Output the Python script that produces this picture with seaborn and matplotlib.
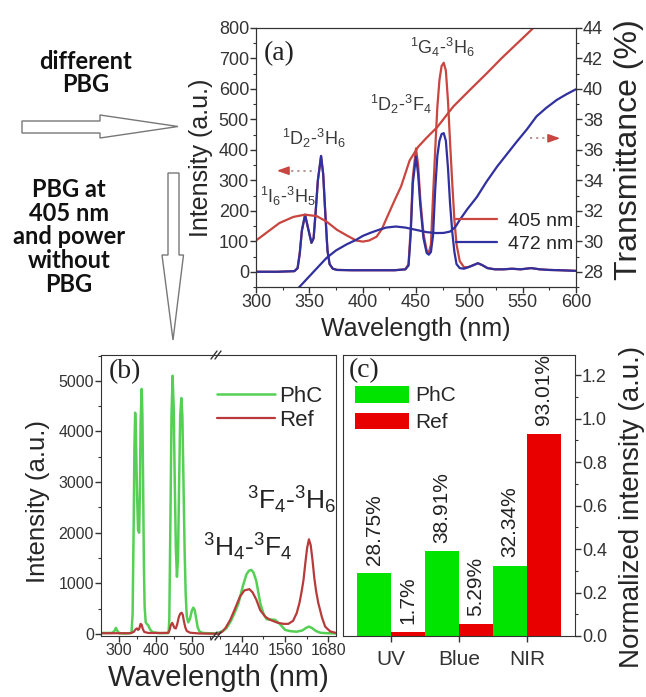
import matplotlib
matplotlib.use('Agg')
import matplotlib.pyplot as plt
from matplotlib.patches import Polygon
from matplotlib.lines import Line2D
from matplotlib.ticker import MultipleLocator, FixedLocator, FormatStrFormatter
import pandas as pd
import seaborn as sns

# ---- panel (a): emission spectra (left axis) ----
em_x = [300, 320, 336, 339, 341, 343, 346, 349, 352, 354, 356, 358, 361, 363, 365, 367,
        369, 372, 376, 390, 410, 430, 440, 443, 445, 447, 450, 452, 454, 457, 460, 462,
        464, 466, 468, 470, 472, 474, 476, 478, 480, 482, 484, 486, 488, 491, 495, 499,
        504, 508, 512, 517, 524, 532, 540, 548, 558, 566, 575, 585, 600]
em472_y = [0, 0, 2, 12, 60, 135, 187, 140, 95, 110, 200, 300, 380, 320, 190, 70,
           25, 10, 6, 5, 5, 5, 8, 20, 120, 290, 378, 320, 220, 110, 62, 56,
           65, 120, 270, 380, 430, 452, 455, 430, 340, 220, 130, 65, 25, 12, 10, 15,
           22, 28, 22, 12, 8, 8, 10, 8, 12, 8, 6, 5, 3]
em405_y = [0, 0, 2, 12, 60, 135, 187, 140, 95, 110, 200, 300, 380, 320, 190, 70,
           25, 10, 6, 5, 5, 5, 8, 25, 140, 310, 405, 350, 240, 125, 70, 62,
           90, 250, 400, 540, 630, 675, 686, 660, 560, 420, 290, 170, 90, 35, 15, 15,
           22, 28, 22, 12, 8, 8, 10, 8, 12, 8, 6, 5, 3]

# ---- panel (a): transmittance (right axis, %) ----
t405_x = [300, 322, 335, 346, 357, 366, 376, 386, 394, 400, 406, 413, 418, 423, 430,
          436, 444, 452, 460, 470, 485, 500, 516, 530, 545, 560, 580, 600]
t405_y = [30.05, 31.2, 31.6, 31.75, 31.65, 31.3, 30.75, 30.35, 30.05, 29.98, 30.05, 30.3,
          30.8, 31.6, 32.7, 33.6, 35.3, 36.2, 36.8, 37.5, 38.85, 39.9, 41.0, 42.0, 43.0,
          44.0, 45.3, 46.6]
t472_x = [340, 350, 358, 366, 375, 385, 394, 400, 407, 415, 422, 431, 440, 450, 460, 469,
          476, 482, 487, 491, 498, 507, 516, 526, 535, 544, 554, 563, 572, 582, 591, 600]
t472_y = [26.95, 27.7, 28.3, 28.9, 29.4, 29.8, 30.1, 30.35, 30.55, 30.75, 30.9, 30.97,
          30.9, 30.75, 30.6, 30.54, 30.55, 30.64, 30.95, 31.4, 32.1, 32.9, 33.9, 34.9,
          35.7, 36.5, 37.35, 38.2, 38.75, 39.28, 39.65, 39.98]

# ---- panel (b): spectra, visible part and NIR part ----
phc_vis_x = [250, 280, 287, 291, 295, 300, 320, 334, 337, 340, 342, 344, 346, 349, 352,
             355, 357, 359, 362, 364, 366, 368, 370, 373, 376, 380, 385, 392, 410, 436,
             438, 441, 444, 447, 450, 453, 456, 459, 462, 465, 468, 471, 474, 477, 480,
             483, 486, 490, 495, 500, 504, 508, 512, 516, 521, 530, 545, 572]
phc_vis_y = [20, 20, 60, 120, 60, 15, 10, 20, 400, 2200, 3700, 4370, 4000, 2800, 2050,
             2000, 2800, 4200, 4840, 4300, 2900, 1400, 550, 230, 200, 170, 90, 35, 15, 20,
             300, 2200, 4300, 5100, 4500, 3000, 1700, 1130, 1500, 3000, 4300, 4660, 4300,
             3000, 1700, 800, 350, 230, 300, 460, 520, 470, 300, 130, 50, 20, 15, 10]
ref_vis_x = [250, 330, 340, 345, 349, 352, 355, 359, 362, 365, 369, 380, 434, 438, 442,
             446, 449, 452, 456, 460, 464, 468, 472, 475, 478, 482, 486, 495, 520, 572]
ref_vis_y = [15, 15, 40, 90, 110, 80, 100, 200, 180, 100, 40, 20, 20, 60, 170,
             220, 170, 120, 110, 200, 330, 400, 420, 380, 260, 130, 60, 25, 10, 5]
phc_nir_x = [1374, 1390, 1398, 1410, 1422, 1431, 1443, 1453, 1460, 1466, 1472, 1480,
             1491, 1500, 1509, 1520, 1532, 1545, 1560, 1575, 1592, 1608, 1618, 1626,
             1634, 1645, 1657, 1675, 1701]
phc_nir_y = [20, 70, 120, 260, 450, 610, 950, 1180, 1250, 1265, 1220, 1050,
             610, 400, 290, 285, 280, 200, 80, 55, 45, 70, 120, 145,
             120, 60, 25, 15, 10]
ref_nir_x = [1374, 1385, 1395, 1408, 1420, 1435, 1447, 1461, 1470, 1480, 1491, 1505,
             1518, 1540, 1556, 1569, 1582, 1592, 1600, 1606, 1611, 1616, 1621, 1626,
             1631, 1636, 1641, 1646, 1652, 1662, 1671, 1685, 1701]
ref_nir_y = [0, 40, 120, 280, 480, 740, 860, 885, 820, 680, 470, 340,
             280, 220, 200, 200, 260, 410, 620, 850, 1070, 1400, 1700, 1870,
             1750, 1450, 1100, 840, 610, 330, 145, 50, 20]

# ---- panel (c): band ratios ----
bands = ['UV', 'Blue', 'NIR']
phc_pct = [28.75, 38.91, 32.34]
ref_pct = [1.7, 5.29, 93.01]

RED_A = '#c9453f'
BLUE_A = '#30309e'
GREEN_B = '#55d055'
RED_B = '#b83a3a'
GREEN_C = '#00e400'
RED_C = '#e80000'

sns.set_style('ticks')
plt.rcParams['font.family'] = ['Liberation Sans', 'DejaVu Sans']
plt.rcParams['mathtext.fontset'] = 'custom'
plt.rcParams['mathtext.rm'] = 'Liberation Sans'
plt.rcParams['mathtext.it'] = 'Liberation Sans:italic'
plt.rcParams['mathtext.bf'] = 'Liberation Sans:bold'
plt.rcParams['axes.edgecolor'] = '#333333'
plt.rcParams['xtick.color'] = '#333333'
plt.rcParams['ytick.color'] = '#333333'

W, H = 646, 697
fig = plt.figure(figsize=(W / 100, H / 100), dpi=100)


def box(l, t, r, b):
    return [l / W, 1 - b / H, (r - l) / W, (b - t) / H]


# ================= (a) =================
ax_a = fig.add_axes(box(256, 28, 576, 287))
sns.lineplot(x=em_x, y=em405_y, ax=ax_a, color=RED_A, linewidth=1.6)
sns.lineplot(x=em_x, y=em472_y, ax=ax_a, color=BLUE_A, linewidth=1.6)
ax_a.set_xlim(300, 600)
ax_a.set_ylim(-50, 800)
ax_a.xaxis.set_major_locator(MultipleLocator(50))
ax_a.xaxis.set_minor_locator(MultipleLocator(25))
ax_a.yaxis.set_major_locator(MultipleLocator(100))
ax_a.yaxis.set_minor_locator(MultipleLocator(50))
ax_a.tick_params(which='major', labelsize=13, length=4, width=1, direction='out', pad=1)
ax_a.tick_params(which='minor', length=2.5, width=0.8, direction='out')
ax_a.set_xlabel('Wavelength (nm)', fontsize=18)
ax_a.xaxis.set_label_coords(0.5, -0.115)
ax_a.set_ylabel('Intensity (a.u.)', fontsize=18)
ax_a.yaxis.set_label_coords(-0.135, 0.5)

ax_a2 = ax_a.twinx()
sns.lineplot(x=t405_x, y=t405_y, ax=ax_a2, color=RED_A, linewidth=1.6)
sns.lineplot(x=t472_x, y=t472_y, ax=ax_a2, color=BLUE_A, linewidth=1.6)
ax_a2.set_ylim(27, 44)
ax_a2.yaxis.set_major_locator(MultipleLocator(2))
ax_a2.yaxis.set_minor_locator(MultipleLocator(1))
ax_a2.tick_params(which='major', labelsize=13, length=4, width=1, direction='out', pad=1)
ax_a2.tick_params(which='minor', length=2.5, width=0.8, direction='out')
ax_a2.set_ylabel('Transmittance (%)', fontsize=23)
ax_a2.yaxis.set_label_coords(1.12, 0.53)

leg_a = ax_a2.legend([Line2D([], [], color=RED_A, lw=1.6), Line2D([], [], color=BLUE_A, lw=1.6)],
                     ['405 nm', '472 nm'], loc='upper left', bbox_to_anchor=(0.625, 0.29),
                     frameon=False, fontsize=14, handlelength=2.1, handletextpad=0.55,
                     labelspacing=0.3, borderpad=0, borderaxespad=0)

TXT_A = '#3a3a3a'
ax_a.text(321.5, 715, '(a)', fontsize=20, family='Liberation Serif', ha='center', va='center', color='#222222')
ax_a.text(354, 438, '$^1$D$_2$-$^3$H$_6$', fontsize=13, ha='center', va='center', color=TXT_A)
ax_a.text(330, 246, '$^1$I$_6$-$^3$H$_5$', fontsize=13, ha='center', va='center', color=TXT_A)
ax_a.text(436, 548, '$^1$D$_2$-$^3$F$_4$', fontsize=13, ha='center', va='center', color=TXT_A)
ax_a.text(474.5, 735, '$^1$G$_4$-$^3$H$_6$', fontsize=13, ha='center', va='center', color=TXT_A)

# ================= (b) broken axis =================
ax_b1 = fig.add_axes(box(101, 355, 218, 636))
ax_b2 = fig.add_axes(box(218, 355, 336, 636), sharey=ax_b1)
sns.lineplot(x=phc_vis_x, y=phc_vis_y, ax=ax_b1, color=GREEN_B, linewidth=1.8)
sns.lineplot(x=ref_vis_x, y=ref_vis_y, ax=ax_b1, color=RED_B, linewidth=1.6)
sns.lineplot(x=phc_nir_x, y=phc_nir_y, ax=ax_b2, color=GREEN_B, linewidth=1.8)
sns.lineplot(x=ref_nir_x, y=ref_nir_y, ax=ax_b2, color=RED_B, linewidth=1.6)
ax_b1.set_xlim(250, 572)
ax_b2.set_xlim(1374, 1701)
ax_b1.set_ylim(-40, 5510)
ax_b1.xaxis.set_major_locator(FixedLocator([300, 400, 500]))
ax_b1.xaxis.set_minor_locator(FixedLocator([350, 450, 550]))
ax_b2.xaxis.set_major_locator(FixedLocator([1440, 1560, 1680]))
ax_b2.xaxis.set_minor_locator(FixedLocator([1380, 1500, 1620]))
ax_b1.yaxis.set_major_locator(MultipleLocator(1000))
ax_b1.yaxis.set_minor_locator(MultipleLocator(500))
for ax in (ax_b1, ax_b2):
    ax.tick_params(which='major', labelsize=11.5, length=4, width=1, direction='out', pad=1)
    ax.tick_params(which='minor', length=2.5, width=0.8, direction='out')
ax_b1.spines['right'].set_visible(False)
ax_b2.spines['left'].set_visible(False)
ax_b2.tick_params(axis='y', which='both', left=False, labelleft=False)
ax_b1.set_xlabel('Wavelength (nm)', fontsize=21)
ax_b1.xaxis.set_label_coords(1.0, -0.1)
ax_b1.set_ylabel('Intensity (a.u.)', fontsize=18.5)
ax_b1.yaxis.set_label_coords(-0.44, 0.48)
ax_b2.legend([Line2D([], [], color=GREEN_B, lw=1.8), Line2D([], [], color=RED_B, lw=1.6)],
             ['PhC', 'Ref'], loc='upper left', bbox_to_anchor=(-0.01, 0.89), frameon=False,
             fontsize=16, handlelength=2.6, handletextpad=0.2, labelspacing=0.12,
             borderpad=0, borderaxespad=0)

# ================= (c) =================
ax_c = fig.add_axes(box(343, 355, 575, 636))
bars = pd.DataFrame({
    'band': bands * 2,
    'sample': ['PhC'] * 3 + ['Ref'] * 3,
    'value': [p / 100 for p in phc_pct + ref_pct],
})
sns.barplot(data=bars, x='band', y='value', hue='sample', order=bands, hue_order=['PhC', 'Ref'],
            palette=[GREEN_C, RED_C], saturation=1, width=1.0, edgecolor='none', ax=ax_c)
for container, pcts in zip(ax_c.containers, [phc_pct, ref_pct]):
    for bar, p in zip(container, pcts):
        ax_c.annotate(f'{p:g}%', (bar.get_x() + bar.get_width() / 2, bar.get_height()),
                      xytext=(0, 6), textcoords='offset points', rotation=90,
                      ha='center', va='bottom', fontsize=15, color='#222222')
ax_c.set_xlim(-0.71, 2.71)
ax_c.set_ylim(0, 1.292)
ax_c.yaxis.tick_right()
ax_c.yaxis.set_label_position('right')
ax_c.yaxis.set_major_locator(MultipleLocator(0.2))
ax_c.yaxis.set_minor_locator(MultipleLocator(0.1))
ax_c.yaxis.set_major_formatter(FormatStrFormatter('%.1f'))
ax_c.tick_params(axis='y', which='major', labelsize=13, length=4, width=1, direction='out', pad=1)
ax_c.tick_params(axis='y', which='minor', length=2.5, width=0.8, direction='out')
ax_c.tick_params(axis='x', labelsize=15, length=4, width=1, direction='out', pad=6)
ax_c.set_xlabel('')
ax_c.set_ylabel('Normalized intensity (a.u.)', fontsize=20)
ax_c.yaxis.set_label_coords(1.19, 0.46)
ax_c.legend(*ax_c.get_legend_handles_labels(), loc='upper left', bbox_to_anchor=(0.05, 0.89),
            frameon=False, fontsize=15, handlelength=2.6, handleheight=0.85,
            handletextpad=0.3, labelspacing=0.35, borderpad=0, borderaxespad=0)

# ================= overlay: arrows, notes =================
ov = fig.add_axes([0, 0, 1, 1], zorder=20)
ov.set_xlim(0, W)
ov.set_ylim(H, 0)
ov.axis('off')

ov.add_patch(Polygon([(22, 121), (100, 121), (100, 115), (178, 126.5), (100, 138), (100, 133), (22, 133)],
                     closed=True, facecolor='white', edgecolor='#777777', lw=1))
ov.add_patch(Polygon([(168, 173), (179, 173), (179, 255), (183.5, 255), (173, 340), (162, 255), (168, 255)],
                     closed=True, facecolor='white', edgecolor='#777777', lw=1))
ov.text(86, 73, 'different\nPBG', fontsize=17, family='Lato', fontweight='bold',
        ha='center', va='center', linespacing=1.05, color='#111111')
ov.text(69, 237, 'PBG at\n405 nm\nand power\nwithout\nPBG', fontsize=17, family='Lato',
        fontweight='bold', ha='center', va='center', linespacing=1.05, color='#111111')

# dotted pointer arrows in (a)
ov.plot([285, 316], [170.7, 170.7], ls=(0, (1.2, 2.2)), color='#b38a8a', lw=1.3)
ov.annotate('', xy=(274, 170.7), xytext=(286, 170.7),
            arrowprops=dict(arrowstyle='-|>,head_length=0.7,head_width=0.25', color=RED_A, lw=1.2))
ov.plot([530, 551], [138.3, 138.3], ls=(0, (1.2, 2.2)), color='#b38a8a', lw=1.3)
ov.annotate('', xy=(563, 138.3), xytext=(550, 138.3),
            arrowprops=dict(arrowstyle='-|>,head_length=0.7,head_width=0.25', color=RED_A, lw=1.2))

# panel labels and transitions in (b), (c)
ov.text(125, 372, '(b)', fontsize=20, family='Liberation Serif', ha='center', va='center', color='#222222')
ov.text(364, 371, '(c)', fontsize=20, family='Liberation Serif', ha='center', va='center', color='#222222')
ov.text(292, 500, '$^3$F$_4$-$^3$H$_6$', fontsize=19, ha='center', va='center', color='#222222')
ov.text(248, 547, '$^3$H$_4$-$^3$F$_4$', fontsize=19, ha='center', va='center', color='#222222')

# axis break marks
for yb in (355, 636):
    ov.plot([211, 217], [yb + 4, yb - 4], color='#333333', lw=1)
    ov.plot([215, 221], [yb + 4, yb - 4], color='#333333', lw=1)

fig.savefig('out.png', dpi=100)
